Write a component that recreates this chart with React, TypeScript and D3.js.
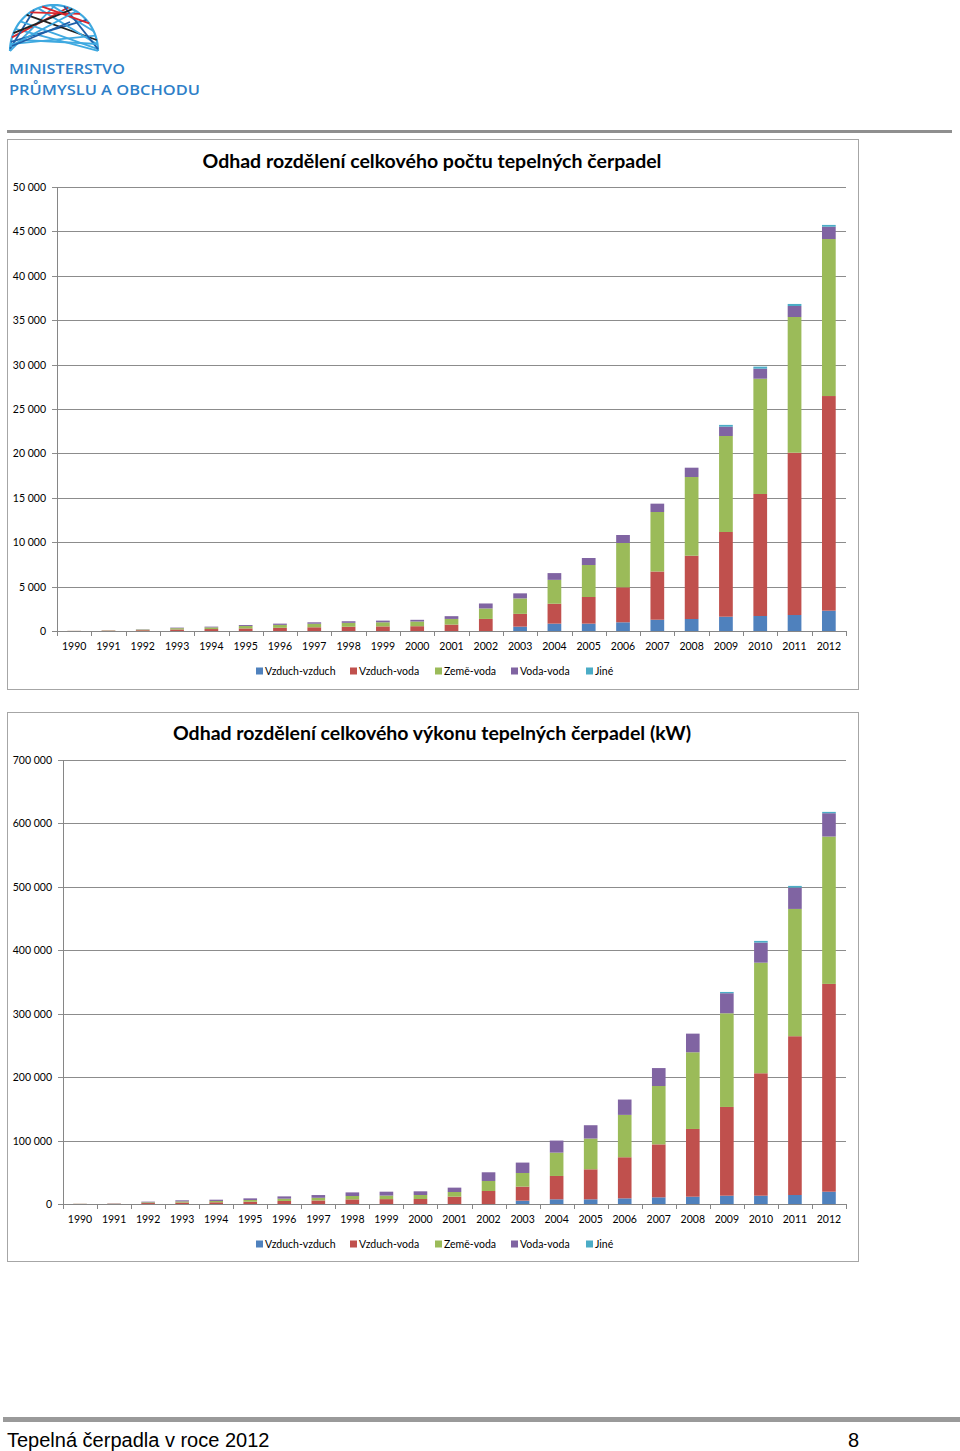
import React from "react";
import * as d3 from "d3";

const years = ["1990", "1991", "1992", "1993", "1994", "1995", "1996", "1997", "1998", "1999", "2000", "2001",
  "2002", "2003", "2004", "2005", "2006", "2007", "2008", "2009", "2010", "2011", "2012"];
const seriesNames = ["Vzduch-vzduch", "Vzduch-voda", "Země-voda", "Voda-voda", "Jiné"];
const seriesColors = ["#4f81bd", "#c0504d", "#9bbb59", "#8064a2", "#4bacc6"];

// pocet tepelnych cerpadel (ks)
const countVzduchVzduch = [0, 0, 0, 0, 0, 0, 0, 0, 0, 0, 0, 0, 0, 490, 830, 830, 980, 1270, 1350, 1610, 1690, 1800, 2290];
const countVzduchVoda = [10, 40, 90, 170, 220, 290, 360, 420, 480, 520, 540, 720, 1360, 1440, 2240, 3000, 3940, 5430, 7130, 9540, 13740, 18280, 24170];
const countZemeVoda = [10, 30, 70, 150, 190, 270, 330, 400, 440, 460, 530, 640, 1180, 1740, 2690, 3600, 4990, 6700, 8860, 10810, 12980, 15280, 17680];
const countVodaVoda = [5, 10, 30, 60, 80, 110, 140, 160, 180, 190, 190, 310, 560, 570, 760, 790, 900, 940, 1050, 1050, 1130, 1240, 1390];
const countJine = [0, 0, 0, 0, 0, 0, 0, 0, 0, 0, 0, 0, 0, 0, 0, 0, 0, 0, 0, 200, 230, 230, 200];
const countTicks = [0, 5000, 10000, 15000, 20000, 25000, 30000, 35000, 40000, 45000, 50000];

// celkovy vykon (kW)
const powerVzduchVzduch = [0, 0, 0, 0, 0, 0, 0, 0, 0, 0, 0, 0, 0, 5300, 7400, 7400, 8900, 10500, 11500, 13100, 13100, 14200, 19400];
const powerVzduchVoda = [200, 400, 1500, 2300, 2700, 3600, 4800, 5600, 7300, 7700, 7900, 11600, 20500, 22100, 36800, 47300, 64800, 83500, 106800, 139900, 193000, 250300, 327600];
const powerZemeVoda = [200, 300, 1200, 1800, 2100, 2700, 3600, 4200, 5300, 5600, 6300, 7300, 15800, 21500, 36800, 48500, 66800, 92000, 120900, 147700, 174400, 200700, 232300];
const powerVodaVoda = [100, 300, 1000, 1700, 2000, 2600, 3600, 4300, 5700, 6100, 5800, 6900, 13700, 16400, 19000, 21000, 24200, 28300, 29400, 31600, 31600, 33600, 36800];
const powerJine = [0, 0, 0, 0, 0, 0, 0, 0, 0, 0, 0, 0, 0, 0, 0, 0, 0, 0, 0, 2000, 2700, 2700, 2100];
const powerTicks = [0, 100000, 200000, 300000, 400000, 500000, 600000, 700000];

const csLocale = d3.formatLocale({ decimal: ",", thousands: " ", grouping: [3], currency: ["", ""] });
const fmt = csLocale.format(",d");

const legendX = [256, 350, 435, 511, 586];
const axisFont = "Lato, 'Open Sans', sans-serif";

type ChartProps = {
  title: string;
  series: number[][];
  ticks: number[];
  box: { x: number; y: number; w: number; h: number };
  plot: { left: number; right: number; top: number; bottom: number };
  titleY: number;
  xLabelY: number;
  legendY: number;
};

function StackedChart({ title, series, ticks, box, plot, titleY, xLabelY, legendY }: ChartProps) {
  const rows = years.map((yr, i) => {
    const r: any = { year: yr };
    seriesNames.forEach((n, s) => (r[n] = series[s][i]));
    return r;
  });
  const stacked = d3.stack<any>().keys(seriesNames)(rows);

  const x = d3.scaleBand().domain(years).range([plot.left, plot.right]).paddingInner(0.6).paddingOuter(0.3);
  const y = d3.scaleLinear().domain([0, ticks[ticks.length - 1]]).range([plot.bottom, plot.top]);
  const step = (plot.right - plot.left) / years.length;

  return (
    <g>
      <rect x={box.x + 0.5} y={box.y + 0.5} width={box.w} height={box.h} fill="#fff" stroke="#a6a6a6" strokeWidth={1} />
      <text x={432} y={titleY} textAnchor="middle" fontFamily={axisFont} fontWeight="bold" fontSize={19.5} fill="#000">
        {title}
      </text>
      {ticks.map((t) => (
        <g key={t}>
          <line x1={plot.left - 5} x2={plot.right} y1={Math.round(y(t)) + 0.5} y2={Math.round(y(t)) + 0.5}
            stroke={t === 0 ? "#868686" : "#8c8c8c"} strokeWidth={1} />
          <text x={plot.left - 11} y={y(t) + 4} textAnchor="end" fontFamily={axisFont} fontSize={10.5} fill="#000">
            {fmt(t)}
          </text>
        </g>
      ))}
      <line x1={plot.left + 0.5} x2={plot.left + 0.5} y1={plot.top} y2={plot.bottom + 5} stroke="#868686" />
      {years.map((yr, i) => (
        <line key={"t" + yr} x1={Math.round(plot.left + step * (i + 1)) + 0.5} x2={Math.round(plot.left + step * (i + 1)) + 0.5}
          y1={plot.bottom} y2={plot.bottom + 5} stroke="#868686" />
      ))}
      {stacked.map((layer, s) => (
        <g key={layer.key} fill={seriesColors[s]}>
          {layer.map((d, i) => (
            <rect key={i} x={x(years[i])} width={x.bandwidth()} y={y(d[1])} height={Math.max(0, y(d[0]) - y(d[1]))} />
          ))}
        </g>
      ))}
      {years.map((yr) => (
        <text key={"l" + yr} x={(x(yr) as number) + x.bandwidth() / 2} y={xLabelY} textAnchor="middle"
          fontFamily={axisFont} fontSize={10.5} fill="#000">
          {yr}
        </text>
      ))}
      {seriesNames.map((n, s) => (
        <g key={"lg" + n}>
          <rect x={legendX[s]} y={legendY - 3.5} width={7} height={7} fill={seriesColors[s]} />
          <text x={legendX[s] + 9} y={legendY + 4} fontFamily={axisFont} fontSize={10.5} fill="#000">
            {n}
          </text>
        </g>
      ))}
    </g>
  );
}

function Logo() {
  const cx = 54, cy = 51, rx = 44, ry = 46;
  const pt = (a: number) => [cx + rx * Math.cos(Math.PI + a), cy + ry * Math.sin(Math.PI + a)];
  const links: [number, number, string][] = [
    [0, 1.6, "#3fa9e0"], [0.2, 2.4, "#1f5fa8"], [0.5, 3.14, "#3fa9e0"], [0.9, 2.9, "#222"],
    [1.2, 3.0, "#3fa9e0"], [0.3, 1.9, "#d9262c"], [1.5, 2.7, "#3fa9e0"], [0.05, 1.1, "#1f5fa8"],
    [1.0, 2.2, "#d9262c"], [0.7, 3.1, "#3fa9e0"], [0.15, 2.8, "#3fa9e0"], [1.8, 3.1, "#1f5fa8"],
    [0.4, 2.0, "#222"], [1.3, 2.5, "#d9262c"], [0.1, 2.1, "#3fa9e0"],
  ];
  const arc = d3.range(0, Math.PI + 0.01, Math.PI / 40).map((a) => pt(a));
  return (
    <g>
      <path d={d3.line()(arc as [number, number][]) as string} fill="none" stroke="#3fa9e0" strokeWidth={2.2} />
      {links.map(([a, b, c], i) => {
        const p = pt(a), q = pt(b);
        return <line key={i} x1={p[0]} y1={p[1]} x2={q[0]} y2={q[1]} stroke={c} strokeWidth={1.8} />;
      })}
      <line x1={22} y1={40} x2={98} y2={44} stroke="#3fa9e0" strokeWidth={1.8} />
      <line x1={12} y1={46} x2={70} y2={22} stroke="#1f5fa8" strokeWidth={1.6} />
      <text x={9} y={73.5} fontFamily="'Open Sans', sans-serif" fontWeight={600} fontSize={15} fill="#2e7fc8" textLength={116} lengthAdjust="spacingAndGlyphs">
        MINISTERSTVO
      </text>
      <text x={9} y={94.5} fontFamily="'Open Sans', sans-serif" fontWeight={600} fontSize={15} fill="#2e7fc8" textLength={191} lengthAdjust="spacingAndGlyphs">
        PRŮMYSLU A OBCHODU
      </text>
    </g>
  );
}

export default function App() {
  const countSeries = [countVzduchVzduch, countVzduchVoda, countZemeVoda, countVodaVoda, countJine];
  const powerSeries = [powerVzduchVzduch, powerVzduchVoda, powerZemeVoda, powerVodaVoda, powerJine];
  return (
    <svg width={960} height={1451} style={{ position: "absolute", left: 0, top: 0, background: "#fff" }}>
      <rect width={960} height={1451} fill="#fff" />
      <Logo />
      <rect x={7} y={130} width={945} height={3} fill="#8f8f8f" />
      <StackedChart
        title="Odhad rozdělení celkového počtu tepelných čerpadel"
        series={countSeries}
        ticks={countTicks}
        box={{ x: 7, y: 139, w: 851, h: 550 }}
        plot={{ left: 57, right: 846, top: 187, bottom: 631 }}
        titleY={168}
        xLabelY={650}
        legendY={671}
      />
      <StackedChart
        title="Odhad rozdělení celkového výkonu tepelných čerpadel (kW)"
        series={powerSeries}
        ticks={powerTicks}
        box={{ x: 7, y: 712, w: 851, h: 549 }}
        plot={{ left: 63, right: 846, top: 760, bottom: 1204 }}
        titleY={740}
        xLabelY={1223}
        legendY={1244}
      />
      <rect x={3} y={1417} width={957} height={5} fill="#9a9a9a" />
      <text x={7} y={1447} fontFamily="'Liberation Sans', Arial, sans-serif" fontSize={20} fill="#000">
        Tepelná čerpadla v roce 2012
      </text>
      <text x={848} y={1447} fontFamily="'Liberation Sans', Arial, sans-serif" fontSize={20} fill="#000">
        8
      </text>
    </svg>
  );
}
